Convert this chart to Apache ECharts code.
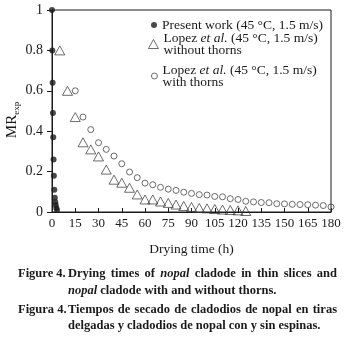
<!DOCTYPE html>
<html>
<head>
<meta charset="utf-8">
<script src="https://cdn.jsdelivr.net/npm/echarts@6/dist/echarts.min.js"></script>
<style>
  html, body { margin: 0; padding: 0; background: #fff; }
  #chart { width: 349px; height: 349px; }
</style>
</head>
<body>
<div id="chart"></div>
<script>
// data
var presentTime = [0, 0.2, 0.4, 0.6, 0.8, 1, 1.2, 1.5, 1.8, 2.1, 2.4, 2.8, 3.2];
var presentMR = [1, 0.8, 0.64, 0.49, 0.37, 0.26, 0.18, 0.11, 0.07, 0.05, 0.035, 0.02, 0.01];

var noThornTime = [5, 10, 15, 20, 25, 30, 35, 40, 45, 50, 55, 60, 65, 70, 75, 80, 85, 90, 95, 100, 105, 110, 115, 120, 125];
var noThornMR = [0.8, 0.6, 0.47, 0.345, 0.31, 0.275, 0.21, 0.16, 0.145, 0.12, 0.087, 0.062, 0.062, 0.052, 0.045,
    0.037, 0.03, 0.025, 0.02, 0.018, 0.015, 0.012, 0.01, 0.008, 0.005];

var thornTime = [15, 20, 25, 30, 35, 40, 45, 50, 55, 60, 65, 70, 75, 80, 85, 90, 95, 100, 105, 110, 115,
    120, 125, 130, 135, 140, 145, 150, 155, 160, 165, 170, 175, 180];
var thornMR = [0.6, 0.47, 0.408, 0.343, 0.31, 0.277, 0.239, 0.198, 0.17, 0.143, 0.135, 0.122, 0.113, 0.107,
    0.098, 0.092, 0.086, 0.084, 0.077, 0.075, 0.066, 0.062, 0.053, 0.05, 0.047, 0.046, 0.041, 0.04, 0.038,
    0.037, 0.036, 0.034, 0.032, 0.025];

var xTicks = [0, 15, 30, 45, 60, 75, 90, 105, 120, 135, 150, 165, 180];
var yTicks = [0, 0.2, 0.4, 0.6, 0.8, 1];

var serif = '"Liberation Serif", "DejaVu Serif", serif';
var ink = '#1a1a1a';

function pairs(xs, ys) {
    return xs.map(function (x, i) { return [x, ys[i]]; });
}

var chart = echarts.init(document.getElementById('chart'));

var legendRich = {
    n: { fontFamily: serif, fontSize: 13.5, color: ink, lineHeight: 12 },
    i: { fontFamily: serif, fontSize: 13.5, color: ink, fontStyle: 'italic', lineHeight: 12 }
};
var emptyMark = { color: 'rgba(255,255,255,0)', borderColor: '#333', borderWidth: 0.9 };

// caption, lines 1 and 3 are justified like the printed figure
var capSize = 12.5;
var measureCtx = document.createElement('canvas').getContext('2d');
function wordWidth(w) {
    measureCtx.font = (w.it ? 'italic ' : '') + 'bold ' + capSize + 'px ' + serif;
    return measureCtx.measureText(w.t).width;
}
function capText(x, y, t, it) {
    return {
        type: 'text', left: x, top: y - 8,
        style: {
            text: t, fill: ink, fontFamily: serif, fontSize: capSize,
            fontWeight: 'bold', fontStyle: it ? 'italic' : 'normal'
        }
    };
}
function justify(words, x0, x1, y) {
    var total = 0;
    words.forEach(function (w) { total += wordWidth(w); });
    var gap = (x1 - x0 - total) / (words.length - 1);
    var x = x0, out = [];
    words.forEach(function (w) {
        out.push(capText(x, y, w.t, w.it));
        x += wordWidth(w) + gap;
    });
    return out;
}
function ragged(words, x0, y) {
    var space = wordWidth({ t: ' ' });
    var x = x0, out = [];
    words.forEach(function (w) {
        out.push(capText(x, y, w.t, w.it));
        x += wordWidth(w) + space;
    });
    return out;
}
function words(s, italic) {
    return s.split(' ').map(function (t) { return { t: t, it: italic.indexOf(t) >= 0 }; });
}

var caption = [].concat(
    [capText(18, 275, 'Figure 4.')],
    justify(words('Drying times of nopal cladode in thin slices and', ['nopal']), 68, 337, 275),
    ragged(words('nopal cladode with and without thorns.', ['nopal']), 68, 292),
    [capText(18, 311, 'Figura 4.')],
    justify(words('Tiempos de secado de cladodios de nopal en tiras', []), 68, 337, 311),
    ragged(words('delgadas y cladodios de nopal con y sin espinas.', []), 68, 327)
);

var option = {
    animation: false,
    backgroundColor: '#fff',
    grid: {
        left: 52, right: 18, top: 10, bottom: 137,
        outerBoundsMode: 'none',
        containLabel: false,
        show: true, borderColor: ink, borderWidth: 1
    },
    xAxis: {
        type: 'value',
        min: xTicks[0], max: xTicks[xTicks.length - 1], interval: 15,
        name: 'Drying time (h)',
        nameLocation: 'middle',
        nameGap: 30,
        nameMoveOverlap: false,
        nameTextStyle: { fontFamily: serif, fontSize: 13.5, color: ink },
        axisLine: { lineStyle: { color: ink, width: 1 } },
        axisTick: { inside: true, length: 4, lineStyle: { color: ink } },
        axisLabel: { fontFamily: serif, fontSize: 13, color: ink, margin: 5 },
        splitLine: { show: false }
    },
    yAxis: {
        type: 'value',
        min: yTicks[0], max: yTicks[yTicks.length - 1], interval: 0.2,
        name: '{a|MR}{b|exp}',
        nameLocation: 'middle',
        nameGap: 31,
        nameMoveOverlap: false,
        nameTextStyle: {
            padding: [0, 18, 0, 0],
            rich: {
                a: { fontFamily: serif, fontSize: 15, color: ink },
                b: { fontFamily: serif, fontSize: 9, color: ink, padding: [8, 0, 0, 0] }
            }
        },
        axisLine: { lineStyle: { color: ink, width: 1 } },
        axisTick: { inside: false, length: 5, lineStyle: { color: ink } },
        axisLabel: { fontFamily: serif, fontSize: 14, color: ink, margin: 9 },
        splitLine: { show: false }
    },
    legend: [{
        data: ['present'], left: 151, top: 18, padding: 0,
        itemWidth: 6, itemHeight: 6, icon: 'circle',
        formatter: function () { return '{n|Present work (45 °C, 1.5 m/s)}'; },
        textStyle: { rich: legendRich }
    }, {
        data: ['without'], left: 148, top: 31, padding: 0,
        itemWidth: 10, itemHeight: 9, icon: 'triangle',
        itemStyle: emptyMark,
        formatter: function () { return '{n|Lopez }{i|et al.}{n| (45 °C, 1.5 m/s)}\n{n|without thorns}'; },
        textStyle: { rich: legendRich }
    }, {
        data: ['with'], left: 151, top: 63, padding: 0,
        itemWidth: 6, itemHeight: 6, icon: 'circle',
        itemStyle: emptyMark,
        formatter: function () { return '{n|Lopez }{i|et al.}{n| (45 °C, 1.5 m/s)}\n{n|with thorns}'; },
        textStyle: { rich: legendRich }
    }],
    series: [{
        name: 'present',
        type: 'scatter',
        symbol: 'circle',
        symbolSize: 6,
        itemStyle: { color: ink },
        data: pairs(presentTime, presentMR),
        z: 3
    }, {
        name: 'without',
        type: 'scatter',
        symbol: 'triangle',
        symbolSize: [10, 9],
        itemStyle: emptyMark,
        data: pairs(noThornTime, noThornMR)
    }, {
        name: 'with',
        type: 'scatter',
        symbol: 'circle',
        symbolSize: 6,
        itemStyle: emptyMark,
        data: pairs(thornTime, thornMR)
    }],
    graphic: caption
};

chart.setOption(option);
</script>
</body>
</html>
